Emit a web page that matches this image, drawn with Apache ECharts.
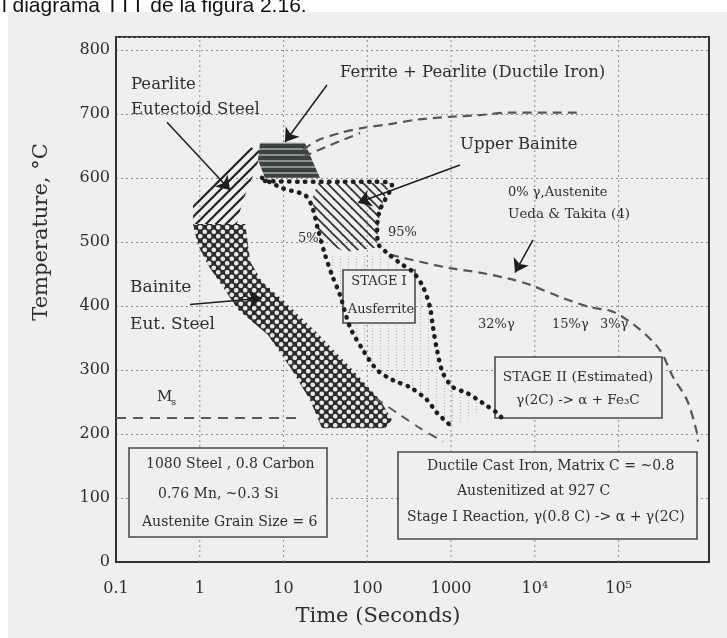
<!DOCTYPE html>
<html><head><meta charset="utf-8">
<script src="https://cdn.jsdelivr.net/npm/echarts@6/dist/echarts.min.js"></script>
<style>html,body{margin:0;padding:0;background:#fff}#c{width:727px;height:638px}</style>
</head><body><div id="c"></div>
<script>
// ---------- data (time in seconds, temperature in °C) ----------
const xTickValues = [0.1, 1, 10, 100, 1000, 10000, 100000];
const xTickLabels = ['0.1', '1', '10', '100', '1000', '10⁴', '10⁵'];
const xGridValues = [1, 10, 100, 1000, 10000, 100000];
const yTickValues = [0, 100, 200, 300, 400, 500, 600, 700, 800];

const pearliteRegion = [[3.98,648],[5.53,641],[4.56,612],[3.47,573],[3.0,547],[2.78,528],[0.83,528],[0.83,558],[1.15,584],[2.0,612],[3.19,636]];
const ferritePearliteRegion = [[5.24,655],[18.0,655],[21.9,628],[27.2,600],[6.0,600],[4.95,628]];
const upperBainiteRegion = [[25.8,592],[187,592],[142,550],[127,491],[54,484],[27.2,503],[21.9,566]];
const bainiteRegion = [[0.83,528],[3.5,528],[4.0,469],[5.53,438],[9.9,409],[25,358],[62,305],[142,253],[197,222],[163,209],[28.8,209],[20.7,253],[11.9,305],[6.5,355],[2.86,394],[2.0,425],[1.25,464],[0.95,495]];
const stageIRegion = [[31.3,480],[37.9,448],[47.2,417],[62.1,367],[88.9,331],[131,300],[203,284],[324,273],[516,253],[679,233],[971,214],[1549,222],[2404,240],[1549,264],[1054,273],[801,295],[679,331],[608,367],[560,398],[462,430],[351,453],[245,467],[172,483]];

const curve5 = [[5.53,600],[9.6,584],[18,573],[21.9,555],[25.8,519],[31.3,480],[37.9,448],[47.2,417],[62.1,367],[88.9,331],[131,300],[203,284],[324,273],[516,253],[679,233],[971,214]];
const curve95 = [[6.01,595],[15.7,594],[47.2,594],[124,594],[197,589],[142,550],[131,523],[134,498],[172,483],[245,467],[351,453],[462,430],[560,398],[608,367],[679,331],[801,295],[1054,273],[1549,264],[2404,248],[3532,233],[4055,225]];
const austenite0Upper = [[17.1,644],[25.1,658],[47.2,670],[88.9,678],[187,684],[392,691],[894,695],[2213,698],[5050,702],[31850,702]];
const austenite0Upper2 = [[17.1,633],[35.9,651],[81.8,670]];
const austenite0Lower = [[187,480],[426,469],[971,459],[2213,452],[5483,441],[8750,433],[19950,414],[45500,398],[85700,391],[179900,363],[311800,331],[445800,289],[655000,253],[862000,202],[886000,188]];
const msLine = [[0.1,225],[17.1,225]];
const msIronLine = [[124,256],[245,230],[426,209],[801,188]];

const arrowPearlite = [[0.406,687],[2.30,581]];
const arrowFerrite = [[33.0,745],[10.4,656]];
const arrowUpperBainite = [[1277,620],[77.4,561]];
const arrowAustenite = [[9510,503],[5795,452]];
const arrowBainite = [[0.764,402],[5.53,412]];

// ---------- patterns ----------
function pattern(w, h, draw) {
  const c = document.createElement('canvas'); c.width = w; c.height = h;
  draw(c.getContext('2d'), w, h); return { image: c, repeat: 'repeat' };
}
const slashFill = pattern(10, 10, (g, w) => {
  g.strokeStyle = '#222'; g.lineWidth = 2.2;
  [[0, w, w, 0], [-w, w, w, -w], [0, 2*w, 2*w, 0]].forEach(l => { g.beginPath(); g.moveTo(l[0], l[1]); g.lineTo(l[2], l[3]); g.stroke(); });
});
const backFill = pattern(9, 9, (g, w) => {
  g.strokeStyle = '#333'; g.lineWidth = 1.8;
  [[0, 0, w, w], [-w, 0, w, 2*w], [0, -w, 2*w, w]].forEach(l => { g.beginPath(); g.moveTo(l[0], l[1]); g.lineTo(l[2], l[3]); g.stroke(); });
});
const stripeFill = pattern(4, 6, (g, w) => {
  g.fillStyle = '#8d918f'; g.fillRect(0, 0, w, 6);
  g.fillStyle = '#3a423e'; g.fillRect(0, 0, w, 4);
});
const crossFill = pattern(9, 9, (g, w) => {
  g.fillStyle = '#2c2c2c'; g.fillRect(0, 0, w, w);
  g.fillStyle = '#e6e6e6';
  [[2.25, 2.25], [6.75, 6.75]].forEach(p => { g.beginPath(); g.arc(p[0], p[1], 2.3, 0, Math.PI*2); g.fill(); });
});
const stippleFill = pattern(8, 3, g => { g.fillStyle = '#b4b4b4'; g.fillRect(4, 1, 1, 1); });

const FONT = '"DejaVu Serif"';
const INK = '#2e2e2e';

function polySeries(pts, fill, z, stroke) {
  return {
    type: 'custom', coordinateSystem: 'cartesian2d', data: pts, z: z, silent: true, animation: false,
    encode: { x: 0, y: 1 },
    renderItem: (params, api) => params.dataIndex !== 0 ? null : {
      type: 'polygon', shape: { points: pts.map(p => api.coord(p)) },
      style: { fill: fill, stroke: stroke || null, lineWidth: stroke ? 1 : 0 }
    }
  };
}
function curveSeries(pts, style, smooth) {
  return { type: 'line', data: pts, symbol: 'none', showSymbol: false, smooth: smooth, z: 3,
    silent: true, animation: false, lineStyle: style };
}
function arrowSeries(list) {
  return { type: 'lines', coordinateSystem: 'cartesian2d', z: 4, silent: true, animation: false,
    symbol: ['none', 'arrow'], symbolSize: 13,
    lineStyle: { color: '#1e1e1e', width: 1.5, opacity: 1 },
    data: list.map(a => ({ coords: a })) };
}
const dotStyle = { color: '#1e1e1e', width: 4.5, type: [0.5, 7.5], cap: 'round' };
const dashStyle = { color: '#555', width: 2.2, type: [9, 6] };

function txt(s, x, y, size, align, extra) {
  return Object.assign({ type: 'text', x: x, y: y, z: 10, silent: true,
    style: { text: s, fill: INK, font: size + 'px ' + FONT, align: align || 'left', textAlign: align || 'left',
      verticalAlign: 'middle', textVerticalAlign: 'middle' } }, extra || {});
}
function box(x, y, w, h) {
  return { type: 'rect', z: 1.5, silent: true, shape: { x: x, y: y, width: w, height: h },
    style: { fill: '#efefef', stroke: '#4a4a4a', lineWidth: 1.6 } };
}

const chart = echarts.init(document.getElementById('c'));
chart.setOption({
  backgroundColor: '#efefef',
  animation: false,
  grid: { left: 116, right: 18, top: 37, bottom: 76, show: true, borderColor: '#333', borderWidth: 2 },
  xAxis: {
    type: 'log', logBase: 10, min: 0.1, max: 1.2e6,
    axisLine: { show: true, lineStyle: { color: '#333', width: 2 } },
    axisTick: { show: false }, splitLine: { show: false },
    axisLabel: { margin: 19, color: INK, fontFamily: 'DejaVu Serif', fontSize: 16,
      formatter: v => { for (let i = 0; i < xTickValues.length; i++) if (Math.abs(Math.log10(v) - Math.log10(xTickValues[i])) < 0.01) return xTickLabels[i]; return ''; } }
  },
  yAxis: {
    type: 'value', min: 0, max: 820, interval: 100,
    axisLine: { show: true, lineStyle: { color: '#333', width: 2 } },
    axisTick: { show: false },
    splitLine: { show: true, lineStyle: { color: '#8c8c8c', width: 1, type: [2, 3] } },
    axisLabel: { margin: 6, color: INK, fontFamily: 'DejaVu Serif', fontSize: 16,
      formatter: v => yTickValues.indexOf(v) >= 0 ? String(v) : '' }
  },
  series: [
    { type: 'custom', coordinateSystem: 'cartesian2d', data: xGridValues, z: 1, silent: true, animation: false,
      encode: { x: 0 },
      renderItem: (params, api) => {
        const v = api.value(0); const a = api.coord([v, 0]); const b = api.coord([v, 820]);
        return { type: 'line', shape: { x1: a[0], y1: a[1], x2: b[0], y2: b[1] },
          style: { stroke: '#8c8c8c', lineWidth: 1, lineDash: [2, 3] } };
      } },
    polySeries(stageIRegion, stippleFill, 1.2),
    polySeries(pearliteRegion, slashFill, 2),
    polySeries(bainiteRegion, crossFill, 2),
    polySeries(ferritePearliteRegion, stripeFill, 2),
    polySeries(upperBainiteRegion, backFill, 2),
    curveSeries(austenite0Upper, dashStyle, 0.3),
    curveSeries(austenite0Upper2, dashStyle, 0.3),
    curveSeries(austenite0Lower, dashStyle, 0.3),
    curveSeries(msLine, { color: '#5a5a5a', width: 2, type: [10, 7] }, false),
    curveSeries(msIronLine, { color: '#5a5a5a', width: 2, type: [9, 7] }, 0.3),
    curveSeries(curve5, dotStyle, 0.3),
    curveSeries(curve95, dotStyle, 0.3),
    arrowSeries([arrowPearlite, arrowFerrite, arrowUpperBainite, arrowAustenite, arrowBainite])
  ],
  graphic: [
    { type: 'rect', z: 0, silent: true, shape: { x: 0, y: 0, width: 727, height: 12 }, style: { fill: '#fff' } },
    { type: 'rect', z: 0, silent: true, shape: { x: 0, y: 0, width: 8, height: 638 }, style: { fill: '#fff' } },
    { type: 'text', x: 2, y: 6, z: 11, silent: true,
      style: { text: 'l diagrama TTT de la figura 2.16.', fill: '#111', font: '21px "Liberation Sans"', align: 'left', verticalAlign: 'middle', textVerticalAlign: 'middle' } },
    box(343, 270, 72, 53),
    box(495, 357, 167, 61),
    box(129, 448, 198, 89),
    box(398, 452, 299, 87),
    txt('Pearlite', 131, 85, 16.5),
    txt('Eutectoid Steel', 131, 110, 16.5),
    txt('Ferrite + Pearlite (Ductile Iron)', 340, 73, 16.5),
    txt('Upper Bainite', 460, 145, 16.5),
    txt('0% γ,Austenite', 508, 193, 13),
    txt('Ueda & Takita (4)', 508, 214, 13.5),
    txt('5%', 298, 239, 13),
    txt('95%', 388, 233, 13),
    txt('STAGE I', 379, 282, 13, 'center'),
    txt('Ausferrite', 381, 310, 13, 'center'),
    txt('32%γ', 478, 325, 13),
    txt('15%γ', 552, 325, 13),
    txt('3%γ', 600, 325, 13),
    txt('STAGE II (Estimated)', 578, 377, 13.8, 'center'),
    txt('γ(2C) -> α + Fe₃C', 578, 400, 13.5, 'center'),
    txt('1080 Steel , 0.8 Carbon', 146, 464, 14),
    txt('0.76 Mn, ~0.3 Si', 158, 494, 14),
    txt('Austenite Grain Size = 6', 142, 522, 14),
    txt('Ductile Cast Iron, Matrix C = ~0.8', 427, 466, 14),
    txt('Austenitized at 927 C', 457, 491, 14),
    txt('Stage I Reaction, γ(0.8 C) -> α + γ(2C)', 407, 517, 14),
    txt('M', 157, 397, 15),
    txt('s', 171, 402, 10),
    txt('Bainite', 130, 288, 17),
    txt('Eut. Steel', 130, 325, 17),
    txt('Time (Seconds)', 378, 617, 21, 'center'),
    txt('Temperature, °C', 42, 232, 21, 'center', { rotation: Math.PI / 2 })
  ]
});
</script></body></html>
